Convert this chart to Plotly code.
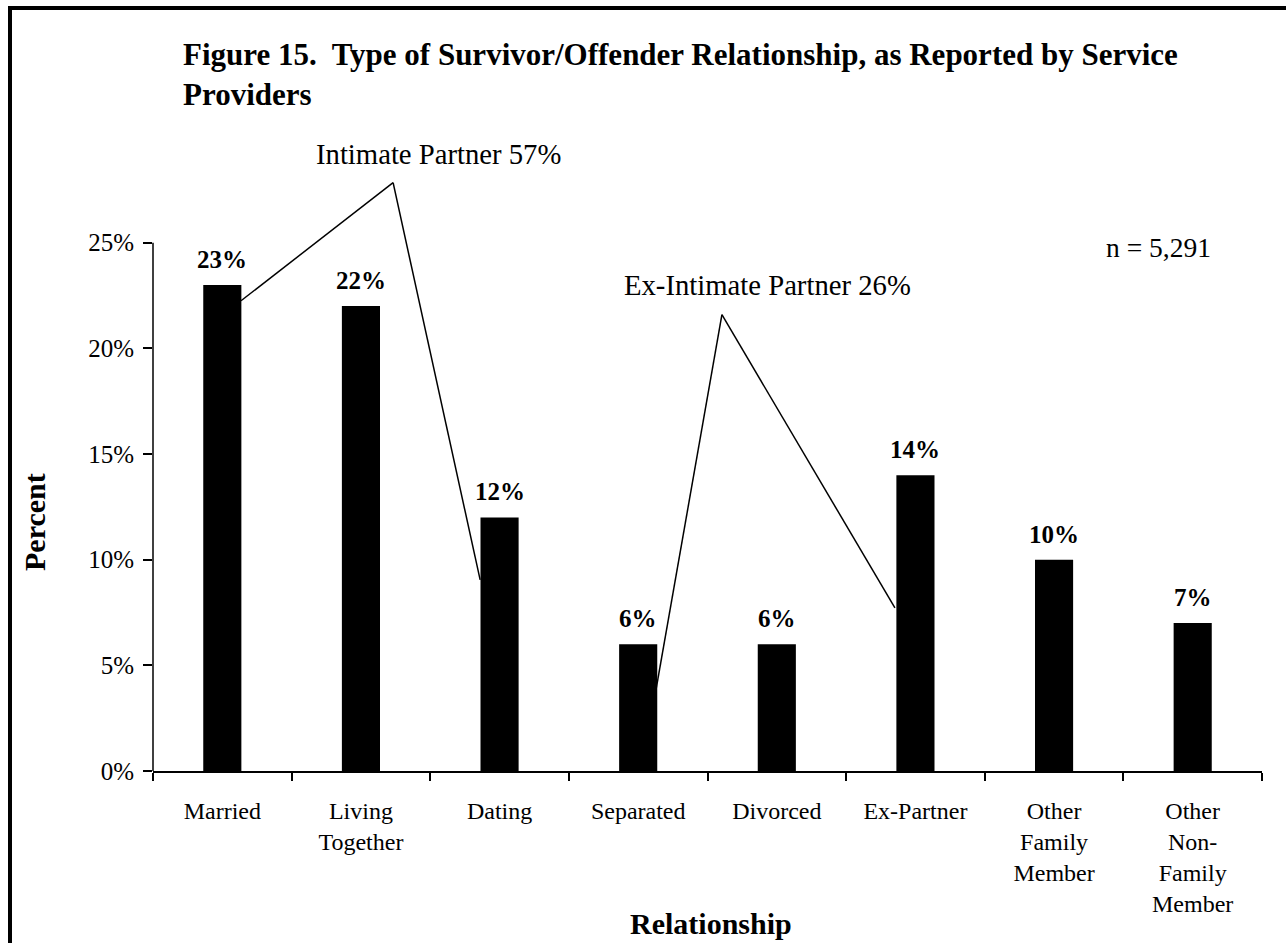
import plotly.graph_objects as go

# ---------------- data ----------------
categories = ["Married", "Living<br>Together", "Dating", "Separated", "Divorced",
              "Ex-Partner", "Other<br>Family<br>Member", "Other<br>Non-<br>Family<br>Member"]
percent_values = [23, 22, 12, 6, 6, 14, 10, 7]
bar_labels = ["23%", "22%", "12%", "6%", "6%", "14%", "10%", "7%"]
y_tick_values = [0, 5, 10, 15, 20, 25]
y_tick_labels = ["0%", "5%", "10%", "15%", "20%", "25%"]

# callout polylines (x = category index, y = percent)
intimate_callout_x = [0.135, 1.232, 1.86]
intimate_callout_y = [22.25, 27.84, 9.04]
ex_callout_x = [3.128, 3.604, 4.852]
ex_callout_y = [3.83, 21.59, 7.72]

title_text = ("Figure 15.\u00a0 Type of Survivor/Offender Relationship, as Reported by Service"
              "<br>Providers")
intimate_label = "Intimate Partner 57%"
ex_label = "Ex-Intimate Partner 26%"
n_label = "n = 5,291"

# ---------------- layout geometry ----------------
W, H = 1286, 943
ML, MR, MT, MB = 153, 24, 137, 172
PW, PH = W - ML - MR, H - MT - MB
FONT = "Liberation Serif"


def px_x(px):
    return (px - ML) / PW


def px_y(py):
    return (H - MB - py) / PH


fig = go.Figure()
fig.add_trace(go.Bar(
    x=categories, y=percent_values, width=0.275,
    marker=dict(color="black", line=dict(width=0)),
    hoverinfo="skip", showlegend=False,
))

annotations = []
for c, v, t in zip(categories, percent_values, bar_labels):
    annotations.append(dict(
        x=c, y=v, xref="x", yref="y", text="<b>" + t + "</b>", showarrow=False,
        yanchor="bottom", yshift=10,
        font=dict(family=FONT, size=25, color="black"),
    ))

# title
annotations.append(dict(
    x=px_x(181), y=px_y(35), xref="paper", yref="paper", xanchor="left", yanchor="top",
    align="left", text="<b>" + title_text + "</b>", showarrow=False,
    font=dict(family=FONT, size=31, color="black"),
))
annotations.append(dict(
    x=px_x(438), y=px_y(154), xref="paper", yref="paper", xanchor="center", yanchor="middle",
    text=intimate_label, showarrow=False, font=dict(family=FONT, size=28.7, color="black"),
))
annotations.append(dict(
    x=px_x(767), y=px_y(285), xref="paper", yref="paper", xanchor="center", yanchor="middle",
    text=ex_label, showarrow=False, font=dict(family=FONT, size=28.7, color="black"),
))
annotations.append(dict(
    x=px_x(1104), y=px_y(247), xref="paper", yref="paper", xanchor="left", yanchor="middle",
    text=n_label, showarrow=False, font=dict(family=FONT, size=27.5, color="black"),
))
# axis titles
annotations.append(dict(
    x=px_x(34), y=px_y(522), xref="paper", yref="paper", xanchor="center", yanchor="middle",
    text="<b>Percent</b>", textangle=-90, showarrow=False,
    font=dict(family=FONT, size=30, color="black"),
))
annotations.append(dict(
    x=px_x(711), y=px_y(923), xref="paper", yref="paper", xanchor="center", yanchor="middle",
    text="<b>Relationship</b>", showarrow=False,
    font=dict(family=FONT, size=30, color="black"),
))

shapes = []
# y axis line (0 to 25%)
shapes.append(dict(type="line", xref="paper", yref="y", x0=0, x1=0,
                   y0=y_tick_values[0], y1=y_tick_values[-1],
                   line=dict(color="black", width=1.5)))
for xs, ys in ((intimate_callout_x, intimate_callout_y), (ex_callout_x, ex_callout_y)):
    for i in range(len(xs) - 1):
        shapes.append(dict(type="line", xref="x", yref="y",
                           x0=xs[i], y0=ys[i], x1=xs[i + 1], y1=ys[i + 1],
                           line=dict(color="black", width=1.5)))
# outer frame
shapes.append(dict(type="rect", xref="paper", yref="paper",
                   x0=px_x(10), x1=px_x(1320), y0=px_y(990), y1=px_y(8),
                   line=dict(color="black", width=4), fillcolor="rgba(0,0,0,0)"))

fig.update_layout(
    width=W, height=H, autosize=False,
    margin=dict(l=ML, r=MR, t=MT, b=MB, pad=0),
    paper_bgcolor="white", plot_bgcolor="white",
    font=dict(family=FONT, color="black"),
    bargap=0.725,
    showlegend=False,
    annotations=annotations,
    shapes=shapes,
    xaxis=dict(
        type="category", range=[-0.5, 7.5], tickson="boundaries",
        ticks="outside", ticklen=8, tickwidth=1.5, tickcolor="black",
        showline=True, linecolor="black", linewidth=1.5,
        showgrid=False, zeroline=False,
        tickfont=dict(family=FONT, size=24, color="black"),
        ticklabelstandoff=17, fixedrange=True,
    ),
    yaxis=dict(
        range=[0, 30], tickvals=y_tick_values, ticktext=y_tick_labels,
        ticks="outside", ticklen=9, tickwidth=1.5, tickcolor="black",
        showline=False, showgrid=False, zeroline=False,
        tickfont=dict(family=FONT, size=25, color="black"),
        ticklabelstandoff=4, fixedrange=True,
    ),
)

fig.write_html("out.html", config={"displayModeBar": False},
               post_script="document.body.style.margin='0';document.body.style.overflow='hidden';")
